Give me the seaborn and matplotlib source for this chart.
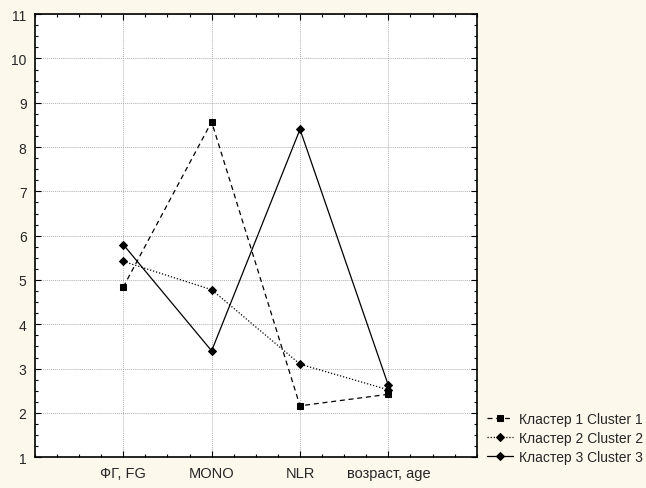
import numpy as np
import pandas as pd
import matplotlib
matplotlib.use("Agg")
import matplotlib.pyplot as plt
from matplotlib.ticker import AutoMinorLocator, MultipleLocator
import seaborn as sns

# ------------------------------------------------------------
# Data
# ------------------------------------------------------------

categories = ["ФГ, FG", "MONO", "NLR", "возраст, age"]
cluster_names = ["Кластер 1 Cluster 1", "Кластер 2 Cluster 2", "Кластер 3 Cluster 3"]
cluster1 = [4.84, 8.57, 2.16, 2.42]
cluster2 = [5.42, 4.78, 3.10, 2.52]
cluster3 = [5.80, 3.40, 8.40, 2.62]

rows = []
for name, vals in zip(cluster_names, [cluster1, cluster2, cluster3]):
    for i, v in enumerate(vals):
        rows.append({"pos": i + 1, "value": v, "cluster": name})
df = pd.DataFrame(rows)

# ------------------------------------------------------------
# Style
# ------------------------------------------------------------

sns.set_style("white")
plt.rcParams["font.family"] = ["Liberation Sans", "DejaVu Sans"]

bg = "#fdf8ec"
fig = plt.figure(figsize=(6.46, 4.89), dpi=100, facecolor=bg)
ax = fig.add_axes([0.054, 0.063, 0.684, 0.906])
ax.set_facecolor("white")

markers = {cluster_names[0]: "s", cluster_names[1]: "D", cluster_names[2]: "D"}
dashes = {cluster_names[0]: (4, 3), cluster_names[1]: (1, 1.5), cluster_names[2]: ""}

sns.lineplot(
    data=df, x="pos", y="value", style="cluster",
    markers=markers, dashes=dashes, color="black",
    linewidth=0.9, markersize=4.5, markeredgecolor="black",
    ax=ax, legend=True
)

# ------------------------------------------------------------
# Axes
# ------------------------------------------------------------

ax.set_xlim(0, 5)
ax.set_ylim(1, 11)
ax.set_xticks([1, 2, 3, 4])
ax.set_xticklabels(categories)
ax.yaxis.set_major_locator(MultipleLocator(1))
ax.xaxis.set_minor_locator(AutoMinorLocator(4))
ax.yaxis.set_minor_locator(AutoMinorLocator(4))
ax.set_xlabel("")
ax.set_ylabel("")

ax.grid(True, which="major", linestyle=(0, (1, 1)), color="#b0b0b0", linewidth=0.7)
ax.tick_params(which="both", direction="in", top=True, right=True,
               bottom=True, left=True, color="black")
ax.tick_params(which="major", length=4, width=0.8, labelsize=10, pad=6)
ax.tick_params(axis="x", which="major", labelsize=10.5)
ax.tick_params(which="minor", length=2.5, width=0.8)
for sp in ax.spines.values():
    sp.set_color("black")
    sp.set_linewidth(1.2)

# legend outside, bottom right
handles, labels = ax.get_legend_handles_labels()
ax.legend_.remove()
fig.legend(handles, labels, loc="lower left", bbox_to_anchor=(0.745, 0.038),
           frameon=False, fontsize=10, handlelength=1.87, handletextpad=0.43,
           labelspacing=0.37, borderaxespad=0)

fig.savefig("out.png", dpi=100, facecolor=bg)
